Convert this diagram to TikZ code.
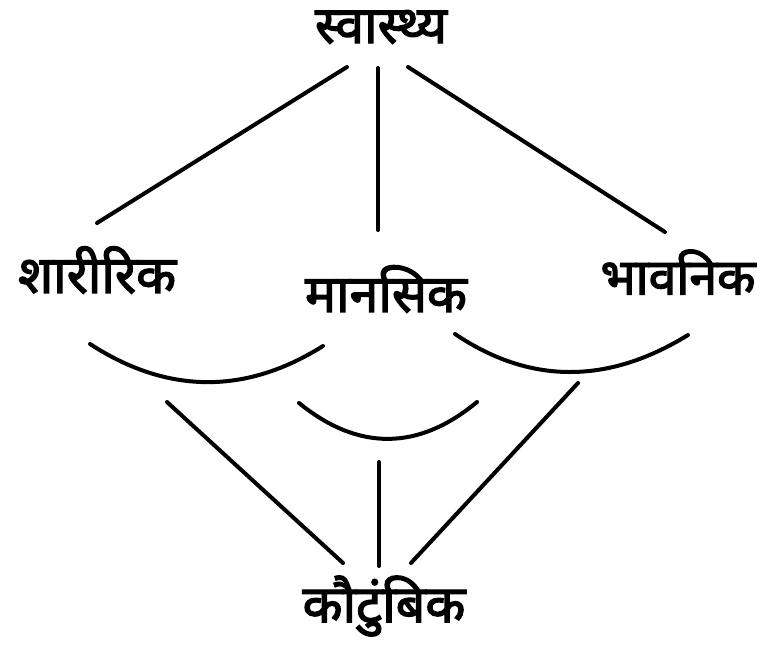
\documentclass[tikz,border=0pt]{standalone}
\usepackage{fontspec}
\newfontfamily\deva[Script=Devanagari,FakeBold=2.5]{Noto Sans}
\begin{document}
\begin{tikzpicture}[x=1pt,y=-1pt,
  lbl/.style={font=\deva\fontsize{52}{52}\selectfont, inner sep=0pt},
  conn/.style={line width=4pt, line cap=round}]
\useasboundingbox (0,0) rectangle (760,645);
% labels
\node[lbl] (health) at (381,27) {स्वास्थ्य};
\node[lbl] (phys)   at (97,270) {शारीरिक};
\node[lbl] (mental) at (386,289) {मानसिक};
\node[lbl, font=\deva\fontsize{50}{50}\selectfont] (emot) at (678,272) {भावनिक};
\node[lbl] (family) at (384,606) {कौटुंबिक};
% connector end points
\coordinate (hL) at (347,67);
\coordinate (hM) at (378,68);
\coordinate (hR) at (408,67);
\coordinate (pT) at (97,223);
\coordinate (mT) at (378,230);
\coordinate (eT) at (665,232);
\coordinate (fL) at (343,563);
\coordinate (fM) at (379,566);
\coordinate (fR) at (411,563);
\coordinate (pB) at (167,402);
\coordinate (mB) at (379,462);
\coordinate (eB) at (578,383);
% top connectors
\draw[conn] (hL) -- (pT);
\draw[conn] (hM) -- (mT);
\draw[conn] (hR) -- (eT);
% arcs
\coordinate (a1s) at (90,344);  \coordinate (a1e) at (323,346);
\coordinate (a2s) at (455,334); \coordinate (a2e) at (688,335);
\coordinate (a3s) at (299,403); \coordinate (a3e) at (477,402);
\draw[conn] (a1s) .. controls (167,394) and (245,395) .. (a1e);
\draw[conn] (a2s) .. controls (529,384) and (607,385) .. (a2e);
\draw[conn] (a3s) .. controls (358,451) and (418,451) .. (a3e);
% bottom connectors
\draw[conn] (pB) -- (fL);
\draw[conn] (mB) -- (fM);
\draw[conn] (eB) -- (fR);
\end{tikzpicture}
\end{document}
